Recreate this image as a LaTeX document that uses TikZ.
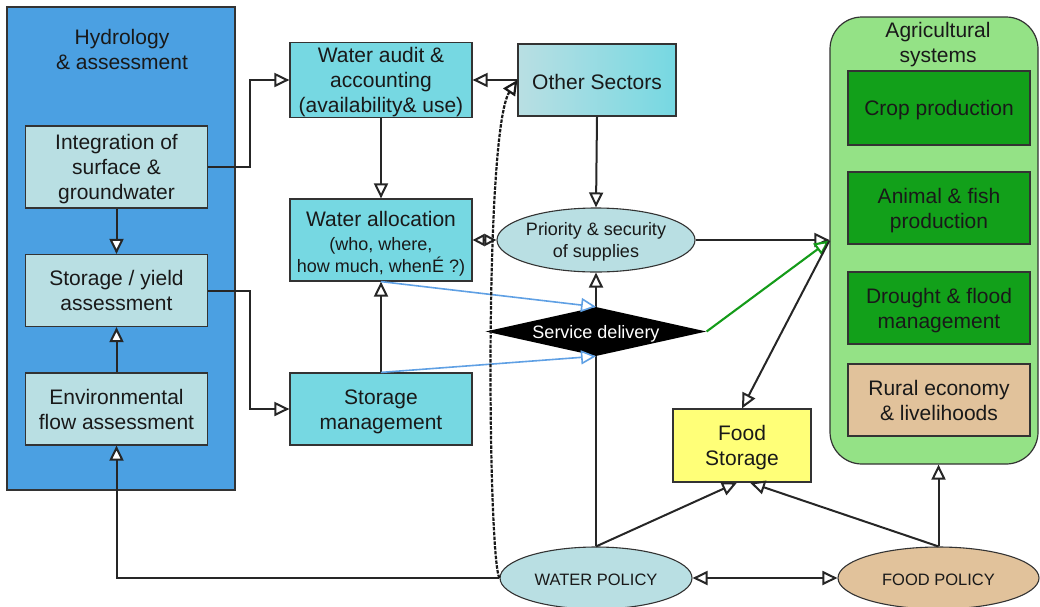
\documentclass[tikz,border=0pt]{standalone}
\usepackage{fontspec}
\setmainfont{Liberation Sans}
\usetikzlibrary{arrows.meta,shapes.geometric}

\definecolor{hydblue}{RGB}{75,160,226}
\definecolor{paleteal}{RGB}{185,223,227}
\definecolor{cyanbox}{RGB}{118,216,226}
\definecolor{agrigreen}{RGB}{148,226,134}
\definecolor{darkgreen}{RGB}{18,160,26}
\definecolor{tanfill}{RGB}{225,194,155}
\definecolor{foodyellow}{RGB}{255,255,120}
\definecolor{flowblue}{RGB}{95,160,228}
\definecolor{flowgreen}{RGB}{20,155,25}

\newcommand\txtL{\fontsize{21}{25}\selectfont}
\newcommand\txtM{\fontsize{18}{21.5}\selectfont}
\newcommand\txtS{\fontsize{16.5}{20}\selectfont}
% a tall invisible strut on the first line sets the text a little lower in its box
\newcommand\topstrut{\rule{0pt}{0.95em}}

\tikzset{
  >={Triangle[length=15pt,width=14pt,fill=white]},
  box/.style={rectangle, draw=black!80, line width=1.2pt, inner sep=0pt,
    align=center, font=\txtL, text=black!90, execute at begin node=\topstrut},
  palebox/.style={box, fill=paleteal, minimum width=182pt},
  cyanbx/.style={box, fill=cyanbox, minimum width=182pt},
  greenbx/.style={box, fill=darkgreen, minimum width=182pt},
  oval/.style={ellipse, draw=black!80, line width=1.1pt, inner sep=0pt,
    align=center, text=black!90, execute at begin node=\topstrut},
  conn/.style={->, line width=2pt, draw=black!85},
  twoway/.style={<->, line width=2pt, draw=black!85},
  shorttwoway/.style={{Triangle[length=12pt,width=12pt,fill=white]}-{Triangle[length=12pt,width=12pt,fill=white]}, line width=2pt, draw=black!85},
  plain/.style={line width=2pt, draw=black!85},
  blueflow/.style={->, line width=1.6pt, draw=flowblue},
  greenflow/.style={->, line width=2.1pt, draw=flowgreen},
  feedback/.style={->, line width=2.2pt, draw=black!90, dash pattern=on 3.5pt off 1.3pt},
}

\begin{document}
\begin{tikzpicture}[x=1pt, y=-1pt]
\useasboundingbox (0,0) rectangle (1040,606);
\clip (0,0) rectangle (1040,606);

% hydrology group
\node[box, fill=hydblue, minimum width=228pt, minimum height=483pt] (hyd) at (121,248.5) {};
\node[font=\txtL, align=center, text=black!90] (hydtitle) at (122,49.5) {Hydrology\\\& assessment};
\node[palebox, minimum height=82pt] (integ) at (116.5,167) {\topstrut Integration of\\surface \&\\groundwater};
\node[palebox, minimum height=72pt] (syield) at (116.5,290.5) {Storage / yield\\assessment};
\node[palebox, minimum height=72pt] (envf) at (116.5,409) {Environmental\\flow assessment};

% water management boxes
\node[cyanbx, minimum height=72pt] (audit) at (381,80) {\topstrut Water audit \&\\accounting\\(availability\& use)};
\node[cyanbx, minimum height=82pt] (alloc) at (381,240) {\rule{0pt}{23.5pt}Water allocation\\[-1pt]\txtM (who, where,\\[-3pt]\txtM how much, whenÉ ?)};
\node[cyanbx, minimum height=72pt] (storm) at (381,409) {\topstrut Storage\\management};
\node[box, left color=paleteal, right color=cyanbox, minimum width=158pt, minimum height=72pt] (other) at (597,80) {Other Sectors};

\node[oval, fill=paleteal, minimum width=192pt, minimum height=64pt, font=\txtM] (prio) at (596,240) {\topstrut Priority \& security\\of supplies};
\node[diamond, fill=black, text=white, font=\txtM, minimum width=213pt, minimum height=47pt, shape aspect=4.5, inner sep=0pt, execute at begin node=\topstrut] (serv) at (596,331.5) {Service delivery};

% agricultural systems
\node[box, fill=agrigreen, rounded corners=32pt, minimum width=208pt, minimum height=447pt] (agri) at (934,240.5) {};
\node[font=\txtL, align=center, text=black!90] (agrititle) at (938,44.5) {Agricultural\\systems};
\node[greenbx, minimum height=74pt] (crop) at (939,108) {Crop production};
\node[greenbx, minimum height=72pt] (animal) at (939,208) {\topstrut Animal \& fish\\production};
\node[greenbx, minimum height=72pt] (drought) at (939,308) {\topstrut Drought \& flood\\management};
\node[box, fill=tanfill, minimum width=182pt, minimum height=72pt] (rural) at (939,400) {Rural economy\\\& livelihoods};

\node[box, fill=foodyellow, minimum width=138pt, minimum height=73pt] (food) at (742,445.5) {\topstrut Food\\Storage};

% policies
\node[oval, fill=paleteal, minimum width=192pt, minimum height=62pt, font=\txtS] (wpol) at (596,578) {WATER POLICY};
\node[oval, fill=tanfill, minimum width=201pt, minimum height=62pt, font=\txtS] (fpol) at (938.5,578) {FOOD POLICY};

% connectors
\draw[conn] (integ.south) -- (syield.north);
\draw[conn] (envf.north) -- (syield.south);
\draw[conn] (integ.east) -- ++(42,0) |- (audit.west);
\draw[conn] (syield.east) -- ++(42,0) |- (storm.west);
\draw[conn] (wpol.west) -| (envf.south);

\draw[conn] (other.west) -- (audit.east);
\draw[conn] (audit.south) -- (alloc.north);
\draw[conn] (storm.north) -- (alloc.south);
\draw[shorttwoway] (alloc.east) -- (prio.west);
\draw[conn] (other.south) -- (prio.north);
\draw[conn] (serv.north) -- (prio.south);
\draw[plain] (wpol.north) -- (serv.south);

\draw[blueflow] (alloc.south) -- (serv.north);
\draw[blueflow] (storm.north) -- (serv.south);

\draw[conn] (prio.east) -- (prio.east -| agri.west);
\draw[greenflow] (serv.east) -- (agri.west);
\draw[conn] (agri.west) -- (food.north);

\draw[conn] (wpol.north) -- ([xshift=-5pt]food.south);
\draw[conn] (fpol.north) -- ([xshift=8pt]food.south);
\draw[conn] (fpol.north) -- (fpol.north |- agri.south);
\draw[twoway] (wpol.east) -- (fpol.west);

\draw[feedback] (wpol.west) .. controls (488,560) and (484,130) .. (other.west);
\end{tikzpicture}
\end{document}
